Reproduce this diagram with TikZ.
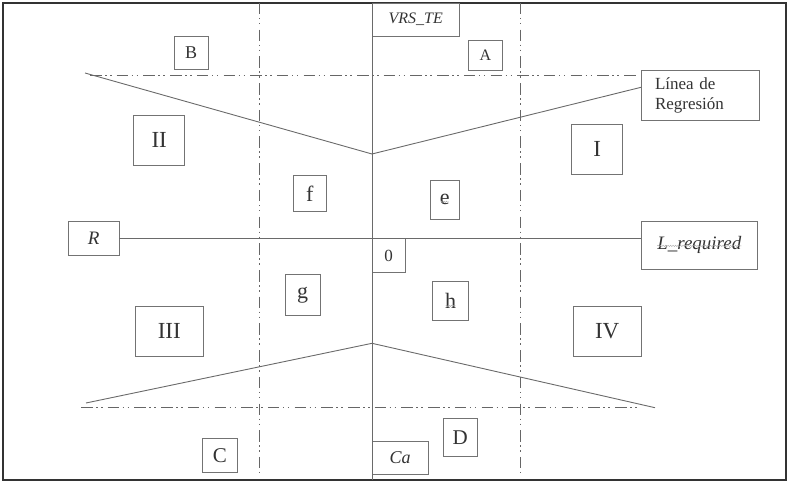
\documentclass[tikz,border=0pt]{standalone}
\usepackage{fontspec}
\setmainfont{Liberation Serif}
\usepackage{xcolor}
\usepackage{tikz}
\usetikzlibrary{decorations.pathmorphing}

\definecolor{boxgray}{HTML}{737373}
\definecolor{linegray}{HTML}{6A6A6A}
\definecolor{dashgray}{HTML}{666666}
\definecolor{txtgray}{HTML}{333333}
\newcommand{\tam}[1]{\fontsize{#1}{#1}\selectfont}

\begin{document}
\begin{tikzpicture}[x=1pt,y=-1pt]
		\tikzstyle{every node}+=[inner sep=0pt]
		\tikzstyle{caja}=[draw=boxgray, line width=0.8pt, text=txtgray]
		\tikzstyle{eje}=[linegray, line width=0.9pt]
		\tikzstyle{limite}=[dashgray, line width=1.4pt, dash pattern=on 11.5pt off 3.5pt on 1.5pt off 3.5pt on 1.5pt off 5.2pt]
		\tikzstyle{onda}=[gray!70, line width=0.4pt, decorate, decoration={snake, amplitude=0.7pt, segment length=2.5pt}]
		\useasboundingbox (0,0) rectangle (795,484);
		\draw [black!80, line width=1.3pt] (3,3) rectangle (786,480);
		% limites (dash-dot)
		\draw [limite] (259.5,3) -- (259.5,474);
		\draw [limite] (520.7,3) -- (520.7,474);
		\draw [limite] (90,75.7) -- (637,75.7);
		\draw [limite] (81,407.3) -- (637,407.3);
		% cajas
		\node [caja, minimum width=87.3pt, minimum height=33pt] (vrs) at (415.7,19.5) {\tam{16}\itshape VRS\_TE};
		\node [caja, minimum width=34.3pt, minimum height=33.7pt] (b) at (191.2,52.9) {\tam{18}B};
		\node [caja, minimum width=34pt, minimum height=30pt] (a) at (485.3,55) {\tam{16}A};
		\node [caja, inner xsep=14pt, text width=90pt, align=left, minimum height=50pt, font={\fontsize{17}{20}\selectfont}] (linea) at (700,95) {\raisebox{-3pt}{Línea de}\\\raisebox{-3pt}{Regresión}};
		\node [caja, minimum width=51pt, minimum height=50.7pt] (ii) at (159.2,140.3) {\tam{23}II};
		\node [caja, minimum width=51pt, minimum height=50.3pt] (i) at (597.2,149.2) {\tam{23}I};
		\node [caja, minimum width=32.3pt, minimum height=35.6pt] (f) at (309.8,193.5) {\tam{22}f};
		\node [caja, minimum width=29.7pt, minimum height=38.7pt] (e) at (444.8,199.7) {\tam{22}e};
		\node [caja, minimum width=50.7pt, minimum height=34pt] (r) at (93.7,238.3) {\tam{19}\itshape R};
		\node [caja, minimum width=116.7pt, minimum height=47.3pt] (lreq) at (699.3,245.3) {\tam{19}\itshape L\_required};
		\node [caja, minimum width=33pt, minimum height=33.6pt] (cero) at (388.5,255.5) {\tam{17}0};
		\node [caja, minimum width=35pt, minimum height=40.6pt] (g) at (302.5,295) {\tam{22}g};
		\node [caja, minimum width=36pt, minimum height=39pt] (h) at (450.7,301.2) {\tam{22}h};
		\node [caja, minimum width=68pt, minimum height=50.7pt] (iii) at (169.3,331.3) {\tam{23}III};
		\node [caja, minimum width=67.7pt, minimum height=50.7pt] (iv) at (607.2,331.3) {\tam{23}IV};
		\node [caja, minimum width=34.3pt, minimum height=34.3pt] (c) at (219.8,455.2) {\tam{21}C};
		\node [caja, minimum width=33.7pt, minimum height=38.3pt] (d) at (460.2,437.2) {\tam{21}D};
		\node [caja, minimum width=56.3pt, minimum height=32.7pt] (ca) at (400.2,457.7) {\tam{18}\itshape Ca};
		% ejes
		\coordinate (ctop) at (372,3);
		\coordinate (cbot) at (372,480);
		\draw [eje] (ctop) -- (cbot);
		\draw [eje] (r.east) -- (r.east -| lreq.west);
		% lineas de regresion
		\coordinate (tl) at (85,73);
		\coordinate (tv) at (372,154);
		\coordinate (tr) at (641,87.3);
		\coordinate (bl) at (86,403);
		\coordinate (bv) at (372,343.3);
		\coordinate (br) at (655,407.7);
		\draw [eje] (tl) -- (tv) -- (tr);
		\draw [eje] (bl) -- (bv) -- (br);
		% subrayado ondulado
		\draw [onda] ([xshift=-4pt,yshift=3pt]e.base) -- ([xshift=4pt,yshift=3pt]e.base);
		\draw [onda] ([xshift=-5pt,yshift=3pt]h.base) -- ([xshift=5pt,yshift=3pt]h.base);
		\draw [onda] ([xshift=-42pt,yshift=4pt]lreq.base) -- ([xshift=42pt,yshift=4pt]lreq.base);
\end{tikzpicture}
\end{document}
